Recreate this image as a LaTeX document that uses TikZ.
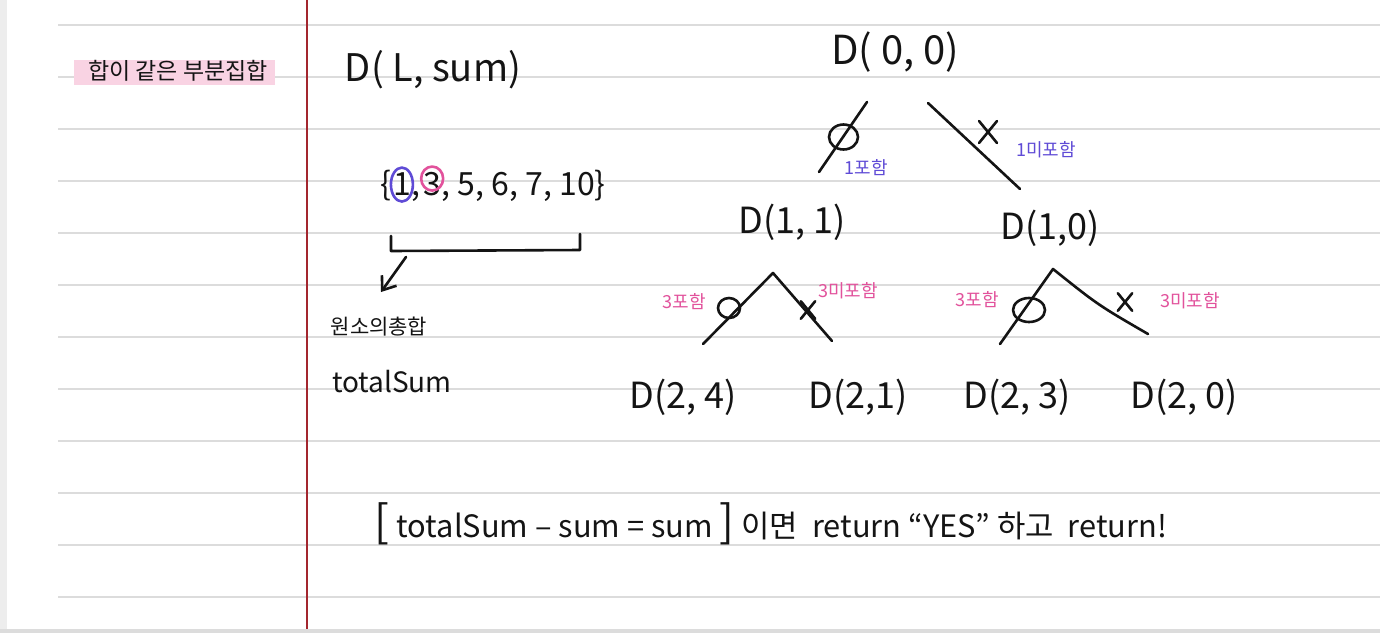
\documentclass[tikz,border=0pt]{standalone}
\usepackage{fontspec}
\setmainfont{Noto Sans CJK KR}
\usetikzlibrary{arrows.meta, positioning, calc}
\definecolor{nbInk}{HTML}{141414}
\definecolor{nbRule}{HTML}{DCDCDC}
\definecolor{nbSide}{HTML}{EDEDED}
\definecolor{nbMargin}{HTML}{A3262E}
\definecolor{nbBlue}{HTML}{5F4BD6}
\definecolor{nbPink}{HTML}{E2529C}
\definecolor{nbHilite}{HTML}{F9D3E3}
\tikzset{
  hand/.style={inner sep=0pt, text=nbInk, font=\fontsize{18}{18}\selectfont},
  call/.style={hand},
  setnum/.style={hand, font=\fontsize{16}{16}\selectfont},
  heading/.style={hand, font=\fontsize{11.5}{12}\selectfont},
  notes/.style={inner sep=0pt, font=\fontsize{9}{9}\selectfont},
  bluenote/.style={notes, text=nbBlue},
  pinknote/.style={notes, text=nbPink},
  pen/.style={draw=nbInk, line width=1.3pt, line cap=round, line join=round},
  pointer/.style={pen, -{Straight Barb[length=6pt, width=9pt]}},
  ruled/.style={draw=nbRule, line width=1pt},
  redmargin/.style={draw=nbMargin, line width=1.2pt},
  xcross/.pic={\draw[pen] (-9,-11) -- (9,11) (9,-11) -- (-9,11);},
}
\begin{document}
\begin{tikzpicture}[x=0.5pt, y=-0.5pt]
  \useasboundingbox (0,0) rectangle (1380,633);
  \fill[white] (0,0) rectangle (1380,633);
  \fill[nbSide] (0,0) rectangle (7,633);
  \fill[nbRule] (0,629) rectangle (1380,633);
  \foreach \y in {25,77,...,597}
    \draw[ruled] (58,\y) -- (1380,\y);
  \draw[redmargin] (307,0) -- (307,629);

  % left column
  \fill[nbHilite] (74,60) rectangle (275,85);
  \node[heading] (ttl) at (178,71) {합이 같은 부분집합};

  % recursion and the set
  \node[hand, font=\fontsize{19}{19}\selectfont] (dls) at (433,70) {D( L, sum)};
  \node[setnum, anchor=west] (lbr) at (380,186) {\{};
  \node[setnum, base right=0.5pt of lbr] (e1) {1};
  \node[setnum, base right=0pt of e1] (c1) {,};
  \node[setnum, base right=1pt of c1] (e3) {3};
  \node[setnum, base right=0pt of e3] (rest) {, 5, 6, 7, 10\}};
  \draw[pen, draw=nbBlue] (e1) ellipse [x radius=11, y radius=17];
  \draw[pen, draw=nbPink] ($(e3)+(0,-6)$) ellipse [x radius=11, y radius=12];
  \draw[pen] (391,236) -- (391,251) -- (580,250) -- (580,234);
  \coordinate (brk) at (406,257);
  \node[hand, font=\fontsize{10.5}{11}\selectfont] (sumko) at (379,327) {원소의총합};
  \node[hand, font=\fontsize{14}{14}\selectfont] (tot) at (392,382) {totalSum};
  \draw[pointer] (brk) -- ($(sumko)+(2,-35)$);

  % tree
  \node[call, font=\fontsize{20}{20}\selectfont] (d00) at (895,52) {D( 0, 0)};
  \node[call] (d11) at (792,222) {D(1, 1)};
  \node[call] (d10) at (1050,228) {D(1,0)};
  \node[call] (d24) at (683,397) {D(2, 4)};
  \node[call] (d21) at (858,397) {D(2,1)};
  \node[call] (d23) at (1017,397) {D(2, 3)};
  \node[call] (d20) at (1184,397) {D(2, 0)};

  \draw[pen] ($(d00)+(-28,50)$) -- ($(d11)+(27,-50)$);
  \draw[pen] ($(d00)+(33,51)$) -- ($(d10)+(-30,-39)$);
  \draw[pen] ($(d00)!0.5!(d11)$) ellipse [x radius=14.5, y radius=12.5];
  \pic at (988,132) {xcross};
  \node[bluenote] (in1) at (866,168) {1포함};
  \node[bluenote] (ex1) at (1046,150) {1미포함};

  \coordinate (a11) at ($(d11)+(-19,51)$);
  \coordinate (a10) at ($(d10)+(3,41)$);
  \draw[pen] ($(d24)+(20,-53)$) -- (a11) -- ($(d21)+(-26,-56)$);
  \draw[pen] ($(d23)+(-17,-53)$) -- (a10)
    .. controls ($(a10)+(45,36)$) .. ($(d20)+(-36,-63)$);
  \draw[pen] ($(a11)+(-44,35)$) ellipse [x radius=11, y radius=10];
  \pic[scale=0.8] at ($(a11)+(35,37)$) {xcross};
  \draw[pen] ($(a10)+(-24,41)$) ellipse [x radius=16, y radius=12];
  \pic[scale=0.8] at ($(a10)+(72,33)$) {xcross};
  \node[pinknote] (in3a) at (684,302) {3포함};
  \node[pinknote] (ex3a) at (848,291) {3미포함};
  \node[pinknote] (in3b) at (977,300) {3포함};
  \node[pinknote] (ex3b) at (1190,301) {3미포함};

  % stop rule
  \node[hand, font=\fontsize{15.4}{16}\selectfont] (stop) at (771,524)
    {{\fontsize{22}{22}\selectfont[} totalSum – sum = sum {\fontsize{22}{22}\selectfont]} 이면 \ return “YES” 하고 \ return!};
\end{tikzpicture}
\end{document}
